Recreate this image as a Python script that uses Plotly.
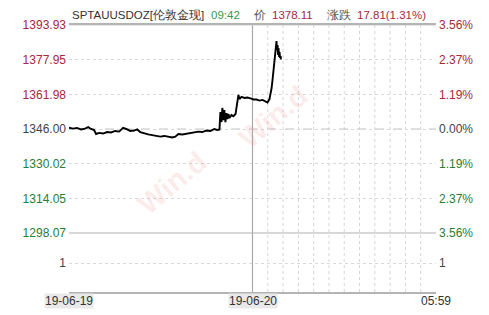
import plotly.graph_objects as go

# ---- data ----
t = [0, 0.26, 0.52, 0.79, 1.05, 1.25, 1.44, 1.64, 1.77, 1.97, 2.23, 2.49, 2.75, 3.02, 3.28,
     3.54, 3.74, 4.0, 4.26, 4.46, 4.66, 4.92, 5.18, 5.44, 5.70, 5.97, 6.23, 6.49, 6.75, 6.95,
     7.15, 7.41, 7.67, 7.93, 8.2, 8.46, 8.72, 8.98, 9.25, 9.51, 9.7, 9.84, 9.9, 9.97, 10.03,
     10.1, 10.16, 10.23, 10.3, 10.36, 10.43, 10.49, 10.62, 10.75, 10.89, 10.95, 11.02, 11.08,
     11.15, 11.28, 11.48, 11.67, 11.87, 12.07, 12.26, 12.46, 12.66, 12.85, 12.98, 13.11, 13.18,
     13.25, 13.31, 13.38, 13.44, 13.51, 13.57, 13.6, 13.64, 13.67, 13.7, 13.74, 13.77, 13.8,
     13.84, 13.86]
price = [1346.6, 1346.2, 1346.5, 1345.8, 1346.2, 1346.9, 1346.0, 1345.5, 1343.7, 1344.2, 1343.9,
         1344.6, 1344.4, 1345.1, 1344.8, 1346.5, 1346.0, 1345.1, 1345.3, 1345.8, 1344.6, 1343.9,
         1343.5, 1343.2, 1343.0, 1342.5, 1342.8, 1342.5, 1342.1, 1342.5, 1343.7, 1343.5, 1343.9,
         1344.2, 1344.6, 1344.8, 1344.6, 1345.3, 1345.1, 1346.0, 1345.5, 1345.8, 1353.8, 1349.2,
         1355.7, 1350.1, 1354.7, 1349.2, 1353.3, 1350.6, 1352.9, 1351.1, 1352.4, 1351.9, 1352.9,
         1355.7, 1359.4, 1361.7, 1359.8, 1360.8, 1360.3, 1360.5, 1360.1, 1359.6, 1359.6, 1359.1,
         1359.4, 1358.7, 1358.2, 1359.8, 1362.1, 1364.9, 1368.6, 1373.2, 1380.1, 1384.7, 1386.5,
         1382.4, 1384.7, 1380.1, 1383.3, 1379.2, 1381.5, 1378.7, 1379.6, 1378.11]

levels = [1393.93, 1377.95, 1361.98, 1346.00, 1330.02, 1314.05, 1298.07]
level_labels = ["1393.93", "1377.95", "1361.98", "1346.00", "1330.02", "1314.05", "1298.07"]
pct_labels = ["3.56%", "2.37%", "1.19%", "0.00%", "1.19%", "2.37%", "3.56%"]
vol_level = 1284.24
vol_label = "1"
y_min = 1270.88
x_ticks = [0, 12, 24]
x_labels = ["19-06-19", "19-06-20", "05:59"]
hour_lines = list(range(13, 24))

RED = "rgb(165,40,60)"
GREEN = "rgb(40,125,55)"
GRAY = "#444444"
FONT = "Liberation Sans"


def col(i):
    if i < 3:
        return RED
    if i == 3:
        return GRAY
    return GREEN


left_text = [f"<span style='color:{col(i)}'>{s}</span>" for i, s in enumerate(level_labels)]
right_text = [f"<span style='color:{col(i)}'>{s}</span>" for i, s in enumerate(pct_labels)]
left_text.append(f"<span style='color:{GRAY}'>{vol_label}</span>")
right_text.append(f"<span style='color:{GRAY}'>{vol_label}</span>")
tickvals = levels + [vol_level]

fig = go.Figure()
fig.add_trace(go.Scatter(x=t, y=price, mode="lines",
                         line=dict(color="#000000", width=1.9), hoverinfo="skip",
                         showlegend=False))
fig.add_trace(go.Scatter(x=[t[0]], y=[price[0]], yaxis="y2", mode="markers",
                         marker=dict(opacity=0), showlegend=False, hoverinfo="skip"))

shapes = []
for h in hour_lines:
    shapes.append(dict(type="line", xref="x", yref="paper", x0=h, x1=h, y0=0, y1=1,
                       line=dict(color="#d6d6d6", width=1, dash="dot"), layer="below"))
shapes.append(dict(type="line", xref="x", yref="paper", x0=x_ticks[1], x1=x_ticks[1], y0=0, y1=1,
                   line=dict(color="#a8a8a8", width=1.2), layer="below"))
shapes.append(dict(type="line", xref="paper", yref="y", x0=0, x1=1, y0=levels[3], y1=levels[3],
                   line=dict(color="#c4c4c4", width=1, dash="dash"), layer="below"))
shapes.append(dict(type="line", xref="paper", yref="y", x0=0, x1=1, y0=levels[-1], y1=levels[-1],
                   line=dict(color="#b0b0b0", width=1.2), layer="below"))
shapes.append(dict(type="line", xref="paper", yref="y", x0=0, x1=1, y0=levels[0], y1=levels[0],
                   line=dict(color="#cfcfcf", width=1), layer="below"))

annotations = []
for i, (xv, lab) in enumerate(zip(x_ticks, x_labels)):
    annotations.append(dict(x=xv, y=0, xref="x", yref="paper", yanchor="top", yshift=-1,
                            text=lab, showarrow=False,
                            font=dict(family=FONT, size=12, color="#333333"),
                            bgcolor="#e9e9e9" if i < 2 else None, borderpad=0))

def px(xp):
    return (xp - 69) / 367.0

title_parts = [
    (70, "SPTAUUSDOZ[伦敦金现]", "#333333"),
    (209, "09:42", "rgb(60,150,70)"),
    (251, "价", "#555555"),
    (270, "1378.11", RED),
    (325, "涨跌", "#555555"),
    (355, "17.81(1.31%)", RED),
]
for xp, txt, c in title_parts:
    annotations.append(dict(x=px(xp), y=1, xref="paper", yref="paper", xanchor="left",
                            yanchor="bottom", yshift=2, text=txt, showarrow=False,
                            font=dict(family=FONT, size=11.5, color=c)))

for xp, yp in [(172, 183), (273, 117)]:
    annotations.append(dict(x=px(xp), y=(292 - yp) / 267.0, xref="paper", yref="paper",
                            xanchor="center", yanchor="middle",
                            text="<b>Win.d</b>", showarrow=False, textangle=-40,
                            font=dict(family=FONT, size=29, color="rgba(235,130,130,0.16)")))

fig.update_layout(
    width=489, height=315,
    margin=dict(l=69, r=53, t=25, b=23),
    paper_bgcolor="white", plot_bgcolor="white",
    font=dict(family=FONT, size=12, color=GRAY),
    xaxis=dict(range=[0, 24], showgrid=False, zeroline=False, showticklabels=False,
               showline=True, linecolor="#b4b4b4", linewidth=1.5, mirror=True, ticks=""),
    yaxis=dict(range=[y_min, levels[0]], tickvals=tickvals, ticktext=left_text,
               showgrid=True, gridcolor="#d9d9d9", griddash="dot", gridwidth=1,
               zeroline=False, ticks="", ticklabelstandoff=2,
               tickfont=dict(family=FONT, size=12)),
    yaxis2=dict(range=[y_min, levels[0]], tickvals=tickvals, ticktext=right_text,
                overlaying="y", side="right", showgrid=False, zeroline=False, ticks="",
                ticklabelstandoff=2, tickfont=dict(family=FONT, size=12)),
    shapes=shapes, annotations=annotations,
)

fig.write_html("out.html")
